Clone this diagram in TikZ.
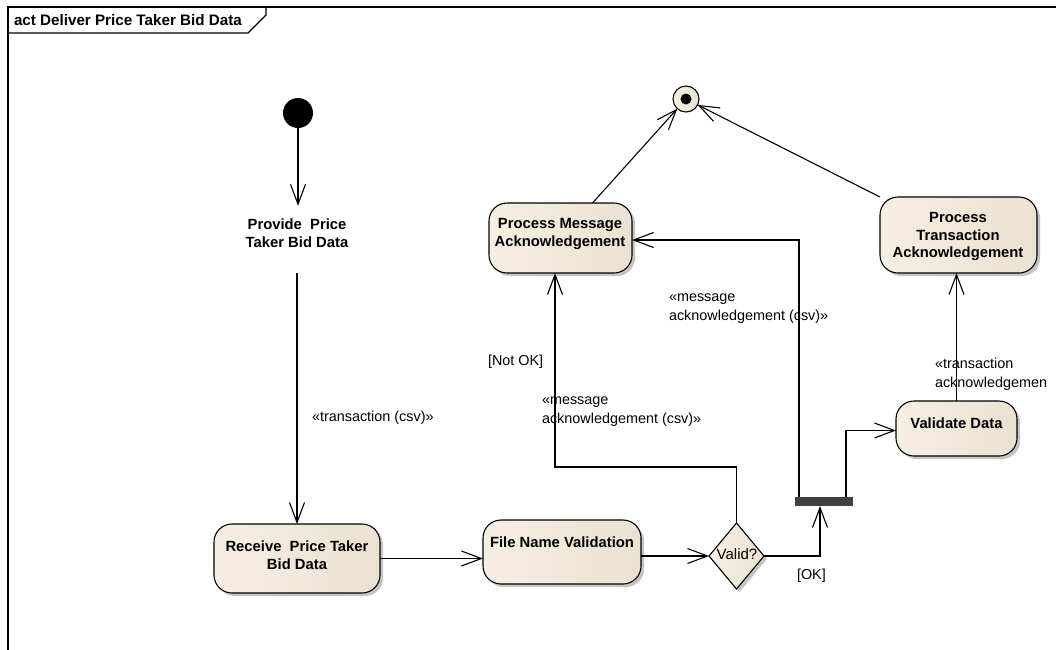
\documentclass[tikz,border=0pt]{standalone}
\usepackage{fontspec}
\setmainfont{Liberation Sans}
\usetikzlibrary{arrows.meta,shapes.geometric,shadows,calc}
\definecolor{cA}{RGB}{246,239,225}
\definecolor{cB}{RGB}{251,247,240}
\definecolor{cC}{RGB}{234,225,210}
\definecolor{barc}{RGB}{64,64,64}
\begin{document}
\begin{tikzpicture}[x=1pt,y=-1pt,
  every node/.style={inner sep=0pt,outer sep=0pt},
  act/.style={draw,line width=1.1pt,rounded corners=18pt,
    left color=cA,middle color=cB,right color=cC,
    drop shadow={shadow xshift=3pt,shadow yshift=-3pt,fill=black!45,opacity=0.5}},
  acttext/.style={align=center,font=\bfseries\fontsize{14.8}{17.5}\selectfont},
  lbl/.style={anchor=base west,align=left,font=\fontsize{14.4}{19}\selectfont},
  flow/.style={line width=1.1pt,-{Straight Barb[length=20pt,width=15pt]}},
  plain/.style={line width=1.1pt}
]
\useasboundingbox (0,0) rectangle (1056,649);
\fill[white] (0,0) rectangle (1056,649);

% frame
\draw[line width=1.1pt] (8,660) -- (8,7) -- (1070,7);
\draw[line width=1.1pt] (8,33) -- (248,33) -- (266,15) -- (266,7);
\node[anchor=base west,font=\bfseries\fontsize{15.2}{16}\selectfont] (title) at (14,25) {act Deliver Price Taker Bid Data};

% nodes
\node[circle,fill=black,minimum size=30pt] (init) at (298,113) {};
\node[circle,draw,line width=1.1pt,left color=cA,middle color=cB,right color=cC,minimum size=26pt] (final) at (686,99) {};
\node[circle,fill=black,minimum size=11pt] (finaldot) at (686,99) {};

\node[acttext,inner ysep=13pt] (prov) at (297,233) {Provide\ \ Price\\Taker Bid Data};

\node[act,minimum width=166pt,minimum height=69pt] (recv) at (297,558.5) {};
\node[acttext] (recvT) at (297,555) {Receive\ \ Price Taker\\Bid Data};

\node[act,minimum width=158pt,minimum height=64pt] (fnv) at (562,552) {};
\node[acttext] (fnvT) at (562,542) {File Name Validation};

\node[diamond,draw,line width=1.1pt,left color=cA,middle color=cB,right color=cC,
  minimum width=55pt,minimum height=66pt,
  drop shadow={shadow xshift=3pt,shadow yshift=-3pt,fill=black!45,opacity=0.5}] (valid) at (736.5,556) {};
\node[font=\fontsize{15}{17}\selectfont] (validT) at (737,554) {Valid?};

\node[fill=barc,minimum width=58pt,minimum height=9pt] (bar) at (824,501.5) {};

\node[act,minimum width=143pt,minimum height=70pt] (pma) at (560.5,238) {};
\node[acttext] (pmaT) at (560,234) {Process Message\\Acknowledgement};

\node[act,minimum width=157pt,minimum height=76pt] (pta) at (958.5,235) {};
\node[acttext] (ptaT) at (958,236.5) {Process\\Transaction\\Acknowledgement};

\node[act,minimum width=121pt,minimum height=55pt] (vd) at (956.5,428.5) {};
\node[acttext] (vdT) at (956.5,423) {Validate Data};

% connectors
\draw[flow] (init.south) -- (init.south |- prov.north);
\draw[flow,shorten <=13pt] (prov.south) -- (recv.north);
\draw[flow] (recv.east) -- (recv.east -| fnv.west);
\draw[flow] (valid.west -| fnv.east) -- (valid.west);
\draw[flow] (valid.east) -| ([xshift=-4pt]bar.south);
\draw[flow] ([xshift=-25pt]bar.north) |- ([yshift=-2pt]pma.east);
\draw[flow] ([xshift=22pt]bar.north) |- ([yshift=-2pt]vd.west);
\draw[flow] (vd.north) -- (vd.north |- pta.south);
\draw[flow] (valid.north) -- ++(0,-56) -| ([xshift=-5.5pt]pma.south);
\draw[flow] ([xshift=32pt]pma.north) -- (final);
\draw[flow] (pta.north west) -- (final);

% labels
\node[lbl] (l1) at (312,421) {«transaction (csv)»};
\node[lbl] (l2) at (488,365) {[Not OK]};
\node[lbl] (l3) at (542,423) {«message\\acknowledgement (csv)»};
\node[lbl] (l4) at (669,320) {«message\\acknowledgement (csv)»};
\node[lbl] (l5) at (935,387) {«transaction\\acknowledgemen};
\node[lbl] (l6) at (797,579) {[OK]};
\end{tikzpicture}
\end{document}
